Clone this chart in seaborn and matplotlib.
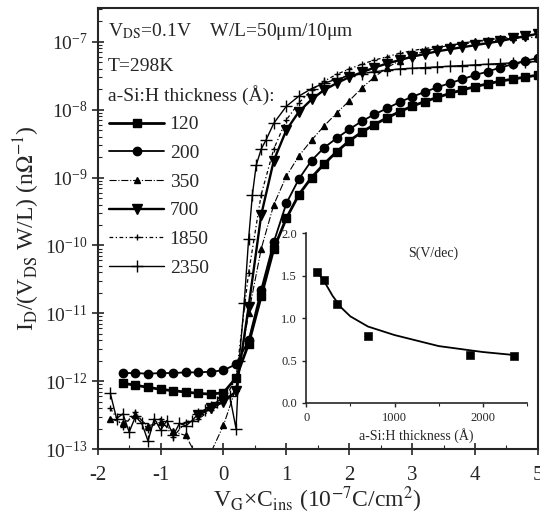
import numpy as np
import pandas as pd
import seaborn as sns
import matplotlib
matplotlib.use("Agg")
import matplotlib.pyplot as plt
from matplotlib.ticker import MultipleLocator, LogLocator, NullFormatter, FormatStrFormatter

### data (log10 of I_D/(V_DS W/L))

labels = ["120", "200", "350", "700", "1850", "2350"]

x_120 = [-1.6, -1.4, -1.2, -1.0, -0.8, -0.6, -0.4, -0.2, 0.0, 0.2, 0.4, 0.6, 0.8, 1.0, 1.2,
         1.4, 1.6, 1.8, 2.0, 2.2, 2.4, 2.6, 2.8, 3.0, 3.2, 3.4, 3.6, 3.8, 4.0, 4.2, 4.4, 4.6, 4.8, 5.0]
log_120 = [-12.03, -12.06, -12.09, -12.12, -12.14, -12.16, -12.18, -12.19, -12.17, -11.95, -11.45,
           -10.75, -10.05, -9.6, -9.25, -9.0, -8.8, -8.62, -8.46, -8.33, -8.22, -8.12, -8.03, -7.95,
           -7.88, -7.82, -7.76, -7.71, -7.66, -7.62, -7.58, -7.55, -7.52, -7.49]

x_200 = x_120
log_200 = [-11.88, -11.88, -11.89, -11.88, -11.88, -11.87, -11.87, -11.86, -11.84, -11.75, -11.4,
           -10.65, -9.95, -9.38, -9.02, -8.75, -8.56, -8.42, -8.29, -8.17, -8.07, -7.98, -7.89, -7.81,
           -7.74, -7.67, -7.61, -7.55, -7.49, -7.44, -7.38, -7.33, -7.28, -7.24]

x_350 = [-1.8, -1.6, -1.4, -1.2, -1.0, -0.8, -0.6, -0.4, -0.2, 0.0, 0.2, 0.4, 0.6, 0.8, 1.0, 1.2,
         1.4, 1.6, 1.8, 2.0, 2.2, 2.4, 2.6, 2.8, 3.0, 3.2, 3.4, 3.6, 3.8, 4.0, 4.2, 4.4, 4.6, 4.8, 5.0]
log_350 = [-12.55, -12.62, -12.5, -12.66, -12.6, -12.74, -12.8, -13.15, -13.05, -12.65, -12.1, -11.0,
           -10.05, -9.4, -8.98, -8.68, -8.45, -8.24, -8.05, -7.87, -7.68, -7.52, -7.38, -7.28, -7.2,
           -7.14, -7.09, -7.05, -7.02, -6.99, -6.97, -6.95, -6.93, -6.91, -6.89]

x_700 = [-0.4, -0.2, 0.0, 0.2, 0.4, 0.6, 0.8, 1.0, 1.2, 1.4, 1.6, 1.8, 2.0, 2.2, 2.4, 2.6, 2.8,
         3.0, 3.2, 3.4, 3.6, 3.8, 4.0, 4.2, 4.4, 4.6, 4.8, 5.0]
log_700 = [-12.5, -12.4, -12.3, -12.15, -10.9, -9.55, -8.75, -8.3, -8.03, -7.85, -7.71, -7.61,
           -7.52, -7.45, -7.38, -7.32, -7.27, -7.22, -7.18, -7.14, -7.11, -7.08, -7.05, -7.02,
           -6.99, -6.95, -6.92, -6.88]

x_1850 = x_350
log_1850 = [-12.4, -12.68, -12.45, -12.72, -12.55, -12.82, -12.6, -12.56, -12.42, -12.3, -11.95, -10.4,
            -9.25, -8.58, -8.15, -7.9, -7.71, -7.58, -7.48, -7.4, -7.33, -7.27, -7.22, -7.17, -7.13,
            -7.1, -7.07, -7.05, -7.03, -7.01, -6.99, -6.97, -6.95, -6.94, -6.93]

x_2350 = [-1.8, -1.7, -1.6, -1.5, -1.4, -1.3, -1.2, -1.1, -1.0, -0.9, -0.8, -0.7, -0.6, -0.5, -0.4,
          -0.3, -0.2, -0.1, 0.0, 0.1, 0.2, 0.25, 0.33, 0.4, 0.46, 0.52, 0.6, 0.68, 0.8, 1.0, 1.2,
          1.4, 1.6, 1.8, 2.0, 2.2, 2.4, 2.6, 2.8, 3.0, 3.2, 3.4, 3.6, 3.8, 4.0, 4.2, 4.4, 4.6, 4.8, 5.0]
log_2350 = [-12.18, -12.55, -12.48, -12.75, -12.52, -12.62, -12.88, -12.55, -12.72, -12.58, -12.8,
            -12.62, -12.66, -12.58, -12.48, -12.42, -12.38, -12.3, -12.25, -12.22, -12.7, -11.7,
            -10.85, -9.9, -9.25, -8.82, -8.58, -8.44, -8.2, -7.95, -7.8, -7.69, -7.61, -7.55, -7.5,
            -7.47, -7.44, -7.42, -7.4, -7.39, -7.38, -7.37, -7.36, -7.35, -7.34, -7.33, -7.32, -7.31,
            -7.3, -7.29]

# inset: subthreshold swing vs a-Si:H thickness
thick = [120, 200, 350, 700, 1850, 2350]
swing = [1.54, 1.45, 1.17, 0.79, 0.57, 0.555]
fit_thick = [120, 200, 300, 400, 500, 700, 1000, 1500, 2000, 2350]
fit_swing = [1.55, 1.44, 1.26, 1.12, 1.02, 0.90, 0.80, 0.67, 0.60, 0.565]

### style

sns.set_style("ticks")
plt.rcParams["font.family"] = ["Liberation Serif", "DejaVu Serif"]
plt.rcParams["mathtext.fontset"] = "stix"
plt.rcParams["axes.linewidth"] = 1.5
plt.rcParams["axes.unicode_minus"] = False

curves = [
    (x_120, log_120, dict(marker="s", ms=6, lw=2.0, ls="-")),
    (x_200, log_200, dict(marker="o", ms=6, lw=1.3, ls="-")),
    (x_350, log_350, dict(marker="^", ms=5, lw=0.8, ls="-.")),
    (x_700, log_700, dict(marker="v", ms=7, lw=1.7, ls="-")),
    (x_1850, log_1850, dict(marker="+", ms=4, lw=0.9, ls=(0, (3, 2, 1, 2)))),
    (x_2350, log_2350, dict(marker="+", ms=9, lw=1.0, ls="-")),
]

fig = plt.figure(figsize=(5.4, 5.24), dpi=100)
ax = fig.add_axes([0.181, 0.143, 0.815, 0.842])

for lab, (xs, ys, kw) in zip(labels, curves):
    df = pd.DataFrame({"x": xs, "y": 10 ** np.array(ys)})
    sns.lineplot(data=df, x="x", y="y", ax=ax, color="black", mec="black", mfc="black",
                 mew=1.0, label=lab, sort=False, **kw)

ax.set_yscale("log")
ax.set_xlim(-2, 5)
ax.set_ylim(1e-13, 10 ** -6.5)
ax.xaxis.set_major_locator(MultipleLocator(1))
ax.xaxis.set_minor_locator(MultipleLocator(0.5))
ax.yaxis.set_major_locator(LogLocator(base=10, numticks=15))
ax.yaxis.set_minor_locator(LogLocator(base=10, subs=np.arange(2, 10), numticks=15))
ax.yaxis.set_minor_formatter(NullFormatter())
ax.tick_params(which="major", direction="inout", length=8, width=1.2, labelsize=14,
               top=False, right=False)
ax.tick_params(axis="x", which="major", pad=8, labelsize=15)
ax.tick_params(which="minor", direction="in", length=3, width=0.8, top=False, right=False)
ax.set_xlabel(r"V$_\mathrm{G}$×C$_\mathrm{ins}$ (10$^{-7}$C/cm$^2$)", fontsize=17, labelpad=0)
ax.set_ylabel(r"I$_\mathrm{D}$/(V$_\mathrm{DS}$ W/L) (n$\Omega^{-1}$)", fontsize=17, labelpad=2)

ax.text(0.023, 0.946, r"V$_\mathrm{DS}$=0.1V    W/L=50μm/10μm", transform=ax.transAxes,
        fontsize=14, va="center")
ax.text(0.023, 0.866, "T=298K", transform=ax.transAxes, fontsize=14, va="center")
ax.text(0.023, 0.803, "a-Si:H thickness (Å):", transform=ax.transAxes, fontsize=14, va="center")

ax.legend(loc="upper left", bbox_to_anchor=(0.0, 0.782), frameon=False, fontsize=14,
          handlelength=2.8, handletextpad=0.3, labelspacing=0.57, borderaxespad=0.2)

# inset
ins = fig.add_axes([0.567, 0.231, 0.409, 0.324])
ins.patch.set_alpha(0)
sns.lineplot(x=fit_thick, y=fit_swing, ax=ins, color="black", lw=1.3)
sns.scatterplot(x=thick, y=swing, ax=ins, color="black", marker="s", s=30, edgecolor="black")
ins.set_xlim(0, 2500)
ins.set_ylim(0, 2.0)
ins.xaxis.set_major_locator(MultipleLocator(1000))
ins.xaxis.set_minor_locator(MultipleLocator(500))
ins.yaxis.set_major_locator(MultipleLocator(0.5))
ins.yaxis.set_major_formatter(FormatStrFormatter("%.1f"))
ins.tick_params(which="major", direction="out", length=3, width=1, labelsize=9)
ins.tick_params(which="minor", direction="out", length=2, width=0.8)
for s in ["top", "right"]:
    ins.spines[s].set_visible(False)
ins.spines["left"].set_linewidth(1.2)
ins.spines["bottom"].set_linewidth(1.2)
ins.set_xlabel("a-Si:H thickness (Å)", fontsize=10, labelpad=3)
ins.set_ylabel("")
ins.text(1435, 1.76, "S(V/dec)", fontsize=10, ha="center", va="center")

fig.savefig("out.png", dpi=100)
